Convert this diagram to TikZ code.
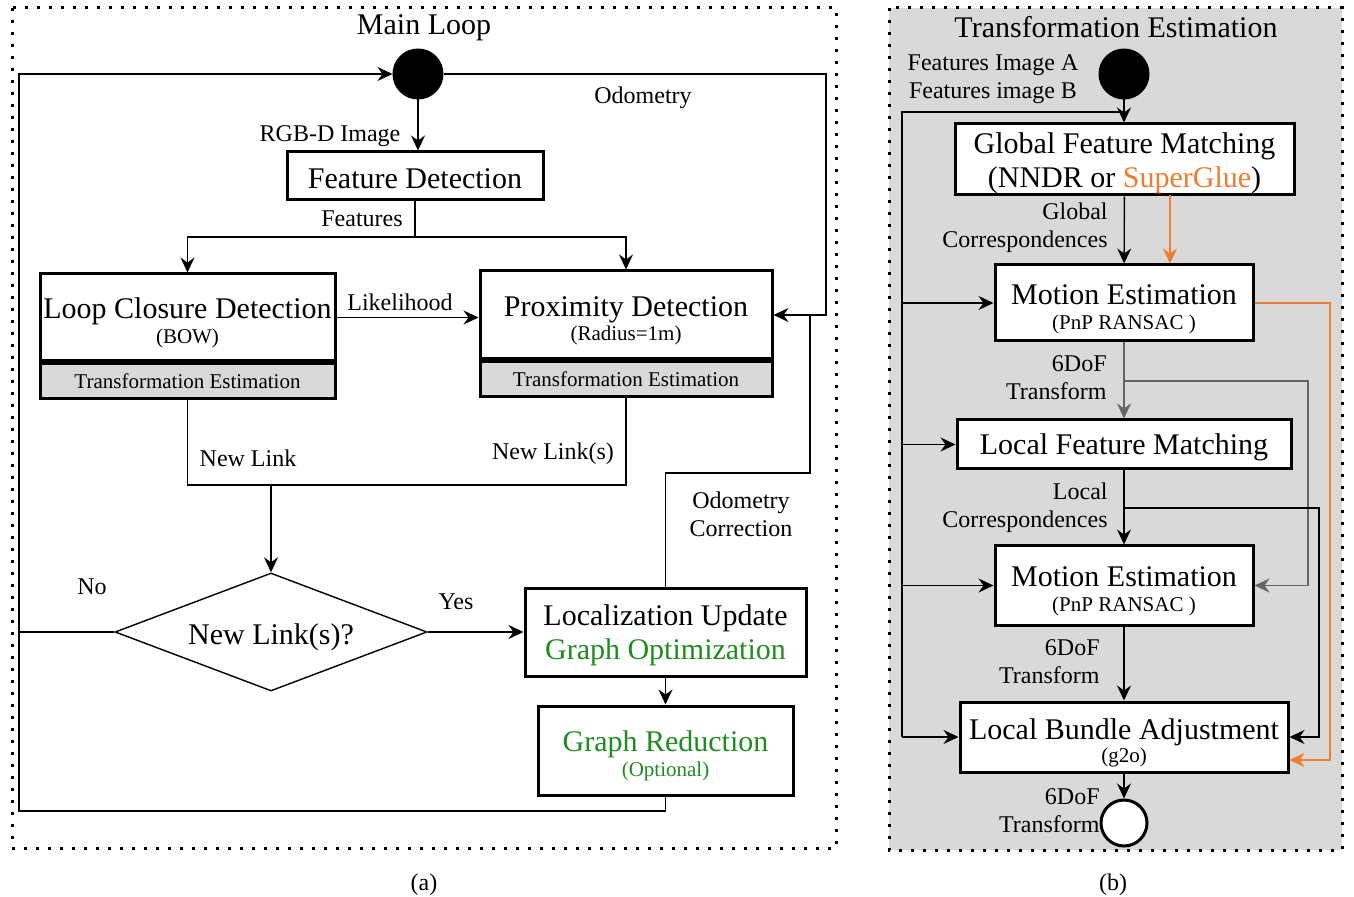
\documentclass[tikz,border=0pt]{standalone}
\usepackage{fontspec}
\setmainfont{Liberation Serif}
\usetikzlibrary{arrows.meta,positioning,shapes.geometric}

\definecolor{bandgray}{RGB}{217,217,217}
\definecolor{optgreen}{RGB}{30,140,30}
\definecolor{sgorange}{RGB}{237,125,49}
\definecolor{tfgray}{RGB}{100,100,100}

\newcommand{\bigf}{\fontsize{15}{17}\selectfont}
\newcommand{\midf}{\fontsize{12}{14}\selectfont}
\newcommand{\smallf}{\fontsize{10.5}{12}\selectfont}

\begin{document}
\begin{tikzpicture}[x=0.5pt, y=-0.5pt,
    box/.style      = {draw, line width=1.5pt, fill=white, align=center, inner sep=0pt, font=\bigf,
                       execute at begin node={\rule{0pt}{13pt}}},
    twoline/.style  = {execute at begin node={\rule{0pt}{#1}}},
    twoline/.default = 28.5pt,
    band/.style     = {draw, line width=1.5pt, fill=bandgray, align=center, inner sep=0pt, font=\smallf},
    lbl/.style      = {inner sep=0pt, align=center, font=\midf, execute at begin node={\rule{0pt}{11pt}}},
    terminal/.style = {circle, draw, line width=1.5pt, minimum size=24pt, inner sep=0pt},
    dotframe/.style = {line width=1.5pt, dash pattern=on 1.5pt off 4.5pt},
    link/.style     = {draw, line width=0.7pt},
    flow/.style     = {link, -{Stealth[length=7.5pt, width=7pt, inset=2.5pt]}}
  ]
    \useasboundingbox (0,0) rectangle (1354,897);

    % (a) main loop
    \draw[dotframe] (12,8) rectangle (836,848);
    \node (titlea) [lbl, font=\bigf] at (424,27)  {Main Loop};
    \node (capa)   [lbl] at (424,882) {(a)};

    \node (starta) [terminal, fill=black] at (418,74) {};
    \node (fd)     [box, minimum width=128pt, minimum height=24pt] at (415,176) {Feature Detection};
    \node (lcd)    [box, twoline, minimum width=147.5pt, minimum height=43.5pt] at (187.5,317.5)
                   {Loop Closure Detection\\[-4.5pt]{\smallf (BOW)}};
    \node (lcdband) [band, minimum width=147.5pt, minimum height=17.5pt, below=0pt of lcd] {Transformation Estimation};
    \node (pd)     [box, twoline=28pt, minimum width=146pt, minimum height=44pt] at (626,315)
                   {Proximity Detection\\[-5pt]{\smallf (Radius=1m)}};
    \node (pdband) [band, minimum width=146pt, minimum height=17.5pt, below=0pt of pd] {Transformation Estimation};
    \node (dec)    [diamond, draw, line width=0.7pt, aspect=2.6, inner sep=0pt,
                    minimum width=156pt, minimum height=59pt, font=\bigf,
                    execute at begin node={\rule{0pt}{16pt}}] at (271,632) {New Link(s)?};
    \node (lu)     [box, twoline=31pt, minimum width=140.5pt, minimum height=44pt] at (665.5,632)
                   {Localization Update\\\textcolor{optgreen}{Graph Optimization}};
    \node (gr)     [box, twoline, minimum width=127.5pt, minimum height=44.5pt, text=optgreen] at (665.5,750.5)
                   {Graph Reduction\\[-4.5pt]{\smallf (Optional)}};

    \coordinate (featsplit) at (415,237);
    \coordinate (odocorner) at (826,74);
    \coordinate (corrbend)  at (810,473);
    \coordinate (linkl)     at (187.5,485);
    \coordinate (linkr)     at (626,485);
    \coordinate (linkmid)   at (271,485);
    \coordinate (loopbl)    at (19,811);

    \node (lrgbd)   [lbl] at (330,133) {RGB-D Image};
    \node (lfeat)   [lbl] at (362,216) {Features};
    \node (llike)   [lbl] at (400,300) {Likelihood};
    \node (lodo)    [lbl] at (643,95)  {Odometry};
    \node (lcorr)   [lbl] at (741,514) {Odometry\\Correction};
    \node (lnew)    [lbl] at (248,456) {New Link};
    \node (lnews)   [lbl] at (553,451) {New Link(s)};
    \node (lno)     [lbl] at (92,584)  {No};
    \node (lyes)    [lbl] at (456,599) {Yes};

    \draw[flow] (starta) -- (starta |- fd.north);
    \draw[link] (fd) -- (featsplit);
    \draw[flow] (featsplit) -| (lcd);
    \draw[flow] (featsplit) -| (pd);
    \draw[flow] (lcd.east) -- (lcd.east -| pd.west);
    \draw[flow] (starta) -- (odocorner) |- (pd.east);
    \draw[link] (lu) |- (corrbend) -- (corrbend |- pd.east);
    \draw[link] (lcdband) -- (linkl) -- (linkr) -- (pdband);
    \draw[flow] (linkmid) -- (dec);
    \draw[flow] (dec) -- (lu);
    \draw[flow] (lu) -- (gr);
    \draw[link] (dec.west) -- (dec.west -| loopbl);
    \draw[flow] (gr) |- (loopbl) |- (starta);

    % (b) transformation estimation
    \draw[dotframe, fill=bandgray] (889,8) rectangle (1342,850);
    \node (titleb) [lbl, font=\bigf] at (1116,27) {Transformation Estimation};
    \node (capb)   [lbl] at (1113,882) {(b)};

    \node (startb) [terminal, fill=black] at (1124,74) {};
    \node (lfeatab) [lbl] at (993,79) {Features Image A\\Features image B};
    \node (gfm)    [box, twoline=31pt, minimum width=169.5pt, minimum height=35.5pt] at (1124.5,159.5)
                   {Global Feature Matching\\(NNDR or \textcolor{sgorange}{SuperGlue})};
    \node (me1)    [box, twoline, minimum width=129pt, minimum height=38pt] at (1124,303)
                   {Motion Estimation\\[-4.5pt]{\smallf (PnP RANSAC )}};
    \node (lfm)    [box, minimum width=167pt, minimum height=24.5pt] at (1124,444.5) {Local Feature Matching};
    \node (me2)    [box, twoline, minimum width=129pt, minimum height=39.5pt] at (1124,585.5)
                   {Motion Estimation\\[-4.5pt]{\smallf (PnP RANSAC )}};
    \node (lba)    [box, twoline=27.5pt, minimum width=164pt, minimum height=35pt] at (1124,737)
                   {Local Bundle Adjustment\\[-5.5pt]{\smallf (g2o)}};
    \node (endb)   [terminal, fill=white, minimum size=23pt] at (1124,823) {};

    \coordinate (busjoin)   at (1124,112);
    \coordinate (bustop)    at (902,112);
    \coordinate (busbot)    at (902,737);
    \coordinate (sgout)     at (1170,195);
    \coordinate (orcorner)  at (1330,303);
    \coordinate (graysplit) at (1124,381);
    \coordinate (grayright) at (1308,381);
    \coordinate (lfmsplit)  at (1124,508);
    \coordinate (lfmright)  at (1319,508);

    \node (lgcorr) [lbl, anchor=east, align=right] at (1108,228) {Global\\Correspondences};
    \node (ltf1)   [lbl, anchor=east, align=right] at (1107,378) {6DoF\\Transform};
    \node (llcorr) [lbl, anchor=east, align=right] at (1108,508) {Local\\Correspondences};
    \node (ltf2)   [lbl, anchor=east, align=right] at (1100,662) {6DoF\\Transform};
    \node (ltf3)   [lbl, anchor=east, align=right] at (1100,811) {6DoF\\Transform};

    \draw[flow, line width=1.3pt] (startb) -- (startb |- gfm.north);
    \draw[link] (busjoin) -- (bustop) -- (busbot);
    \draw[flow] (bustop |- me1.west) -- (me1.west);
    \draw[flow] (bustop |- lfm.west) -- (lfm.west);
    \draw[flow] (bustop |- me2.west) -- (me2.west);
    \draw[flow] (busbot) -- (lba.west);
    \draw[flow] (gfm) -- (me1);
    \draw[flow, sgorange, line width=1pt] (sgout) -- (sgout |- me1.north);
    \draw[flow, sgorange, line width=1pt] (me1.east) -- (orcorner) |- ([yshift=-11.5pt]lba.east);
    \draw[link, tfgray, line width=1.3pt] (me1) -- (graysplit);
    \draw[flow, tfgray] (graysplit) -- (lfm);
    \draw[flow, tfgray] (graysplit) -- (grayright) |- (me2);
    \draw[link, line width=1.3pt] (lfm) -- (lfmsplit);
    \draw[flow] (lfmsplit) -- (me2);
    \draw[flow] (lfmsplit) -- (lfmright) |- (lba);
    \draw[flow] (me2) -- (lba);
    \draw[flow] (lba) -- (endb);
\end{tikzpicture}
\end{document}
